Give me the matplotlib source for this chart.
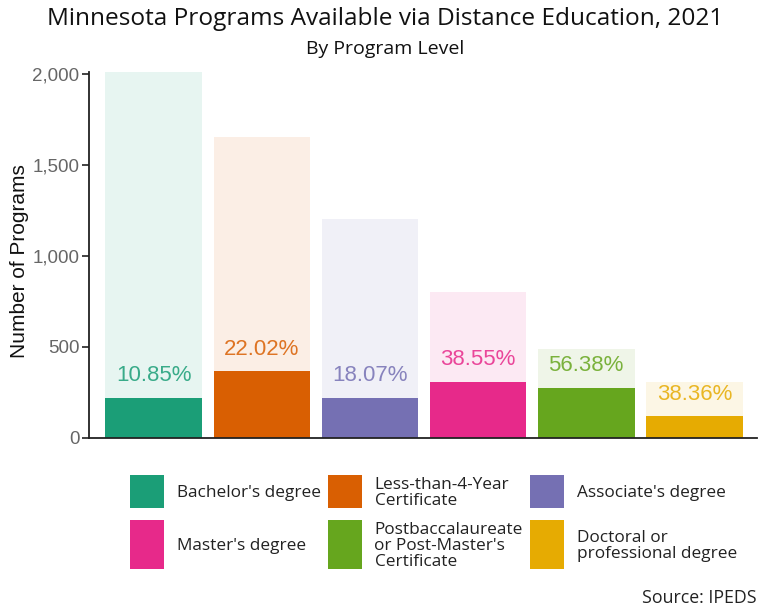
import matplotlib
matplotlib.use("Agg")
import matplotlib.pyplot as plt
from matplotlib.patches import Rectangle
from matplotlib.ticker import FuncFormatter

categories = ["Bachelor's degree", "Less-than-4-Year\nCertificate", "Associate's degree",
              "Master's degree", "Postbaccalaureate\nor Post-Master's\nCertificate",
              "Doctoral or\nprofessional degree"]
total_programs = [2009, 1653, 1201, 799, 486, 305]
distance_programs = [218, 364, 217, 308, 274, 117]
pct_labels = ["10.85%", "22.02%", "18.07%", "38.55%", "56.38%", "38.36%"]
colors = ["#1B9E77", "#D95F02", "#7570B3", "#E7298A", "#66A61E", "#E6AB02"]
yticks = [0, 500, 1000, 1500, 2000]

W, H = 759, 609
fig = plt.figure(figsize=(W / 100, H / 100), dpi=100)
ax = fig.add_axes([89 / W, 1 - 437.7 / H, (757 - 89) / W, (437.7 - 72) / H])

x = list(range(len(categories)))
ax.bar(x, total_programs, width=0.895, color=colors, alpha=0.1, linewidth=0)
ax.bar(x, distance_programs, width=0.895, color=colors, linewidth=0)
for xi, d, lab, c in zip(x, distance_programs, pct_labels, colors):
    ax.annotate(lab, (xi, d), xytext=(0, 16), textcoords="offset points",
                ha="center", va="center", color=c, alpha=0.85, fontsize=16,
                family="Liberation Sans")

ax.set_xlim(-0.6, 5.58)
ax.set_ylim(0, 2010)
ax.set_yticks(yticks)
ax.yaxis.set_major_formatter(FuncFormatter(lambda v, p: f"{int(v):,}"))
ax.set_xticks([])
for s in ["top", "right"]:
    ax.spines[s].set_visible(False)
ax.spines["left"].set_color("#222222")
ax.spines["bottom"].set_color("#222222")
ax.spines["left"].set_linewidth(1.3)
ax.spines["bottom"].set_linewidth(1.3)
ax.tick_params(axis="y", length=5, width=1.2, color="#222222", labelcolor="#666666",
               labelsize=13.5, pad=2)
for t in ax.get_yticklabels():
    t.set_family("Liberation Sans")
ax.set_ylabel("Number of Programs", fontsize=15, family="Liberation Sans",
              color="#111111")
ax.yaxis.set_label_coords(-(89 - 29) / (757 - 89), 0.483)

fig.text(385 / W, 1 - 19 / H, "Minnesota Programs Available via Distance Education, 2021",
         ha="center", va="center", fontsize=17.6, family="Open Sans", color="#111111")
fig.text(385 / W, 1 - 49 / H, "By Program Level", ha="center", va="center",
         fontsize=14, family="Open Sans", color="#111111")

# legend (manual grid)
col_x = [130, 327.5, 530]
row_box = [(475, 508), (520, 569)]
for i, (cat, c) in enumerate(zip(categories, colors)):
    r, k = divmod(i, 3)
    y0, y1 = row_box[r]
    fig.add_artist(Rectangle((col_x[k] / W, 1 - y1 / H), 34 / W, (y1 - y0) / H,
                             transform=fig.transFigure, color=c, linewidth=0))
    fig.text((col_x[k] + 47) / W, 1 - ((y0 + y1) / 2 + 1.5) / H, cat, ha="left",
             va="center", fontsize=12.4, family="Open Sans", color="#222222",
             linespacing=1.0)

fig.text(757 / W, 1 - 598 / H, "Source: IPEDS", ha="right", va="center",
         fontsize=12.8, family="Open Sans", color="#222222")

fig.savefig("out.png", dpi=100)
